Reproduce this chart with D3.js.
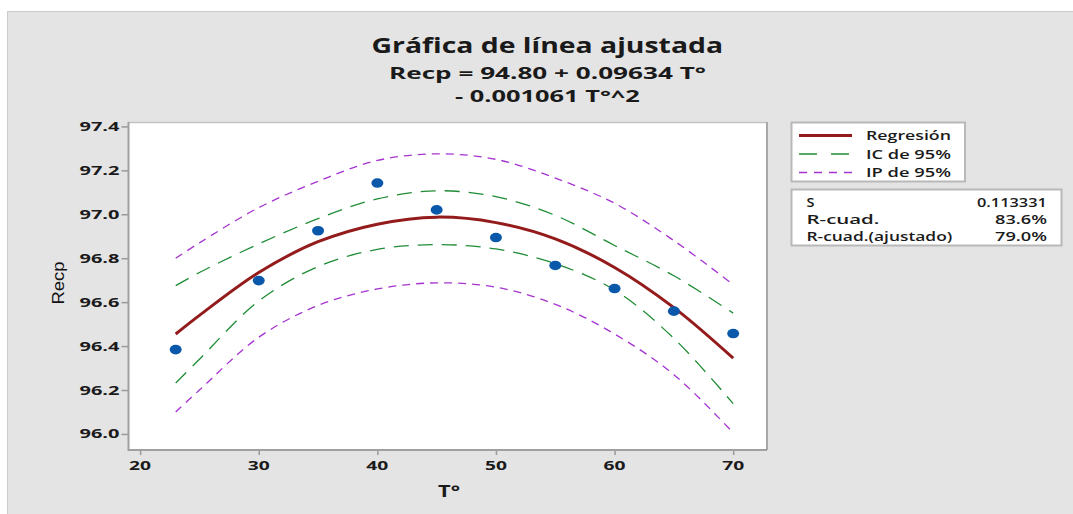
<!DOCTYPE html>
<html><head><meta charset="utf-8">
<script src="https://cdn.jsdelivr.net/npm/d3@7"></script>
<style>html,body{margin:0;padding:0;background:#fff;}svg{display:block;}</style>
</head><body>
<svg id="chart" width="1073" height="514"></svg>
<script>
// ---- data ----
const obsT = [23, 30, 35, 40, 45, 50, 55, 60, 65, 70];
const obsRecp = [96.384, 96.698, 96.925, 97.142, 97.02, 96.894, 96.767, 96.662, 96.559, 96.457];
const fitT = [23, 25, 30, 35, 40, 45, 50, 55, 60, 65, 70];
const fitRecp = [96.455, 96.54, 96.735, 96.875, 96.955, 96.987, 96.962, 96.888, 96.758, 96.575, 96.345];
const ciUpper = [96.675, 96.735, 96.865, 96.98, 97.07, 97.107, 97.08, 96.995, 96.858, 96.72, 96.55];
const ciLower = [96.232, 96.34, 96.605, 96.762, 96.84, 96.862, 96.842, 96.775, 96.655, 96.435, 96.138];
const piUpper = [96.80, 96.87, 97.03, 97.15, 97.245, 97.275, 97.25, 97.165, 97.05, 96.88, 96.68];
const piLower = [96.10, 96.2, 96.44, 96.585, 96.66, 96.688, 96.668, 96.59, 96.455, 96.27, 96.005];
const xTicks = [20, 30, 40, 50, 60, 70];
const yTicks = [96.0, 96.2, 96.4, 96.6, 96.8, 97.0, 97.2, 97.4];
const legendLabels = ["Regresión", "IC de 95%", "IP de 95%"];
const statNames = ["S", "R-cuad.", "R-cuad.(ajustado)"];
const statValues = ["0.113331", "83.6%", "79.0%"];
const title = "Gráfica de línea ajustada";
const eq1 = "Recp = 94.80 + 0.09634 T°";
const eq2 = "- 0.001061 T°^2";

// ---- layout ----
const svg = d3.select("#chart");
const box = {l: 128.5, r: 767, t: 122, b: 450};
const x = d3.scaleLinear().domain([19.02, 72.85]).range([box.l, box.r]);
const y = d3.scaleLinear().domain([95.927, 97.42]).range([box.b, box.t]);
const FONT = "'Open Sans', 'Noto Sans', sans-serif";

function label(parent, str, px, py, o) {
  const t = parent.append("text").text(str)
    .attr("font-family", o.family || FONT)
    .attr("font-size", o.size)
    .attr("font-weight", o.weight || 600)
    .attr("fill", o.fill || "#1a1a1a");
  const w = t.node().getComputedTextLength();
  const tw = o.w || w;
  const sx = tw / w;
  const rot = o.rotate ? ` rotate(${o.rotate})` : "";
  let off = 0;
  if (o.anchor === "middle") off = -tw / 2;
  else if (o.anchor === "end") off = -tw;
  t.attr("transform", `translate(${px},${py})${rot} translate(${off},0) scale(${sx},1)`);
  return t;
}

// background panel
svg.append("rect").attr("x", 7).attr("y", 11).attr("width", 1066).attr("height", 503).attr("fill", "#e4e4e4");
svg.append("path").attr("d", "M7.5,514V11.5H1073").attr("fill", "none").attr("stroke", "#cccccc").attr("stroke-width", 1);

// plot area
svg.append("rect").attr("x", box.l).attr("y", box.t).attr("width", box.r - box.l).attr("height", box.b - box.t).attr("fill", "#ffffff");
svg.append("line").attr("x1", box.l).attr("x2", box.r).attr("y1", box.t + 0.5).attr("y2", box.t + 0.5).attr("stroke", "#c4c4c4").attr("stroke-width", 1.5);
svg.append("line").attr("x1", box.r).attr("x2", box.r).attr("y1", box.t).attr("y2", box.b).attr("stroke", "#a8a8a8").attr("stroke-width", 2);

// axes (ticks only; labels drawn separately)
const gy = svg.append("g").attr("transform", `translate(${box.l},0)`)
  .call(d3.axisLeft(y).tickValues(yTicks).tickSize(7).tickSizeOuter(0).tickFormat(""));
const gx = svg.append("g").attr("transform", `translate(0,${box.b})`)
  .call(d3.axisBottom(x).tickValues(xTicks).tickSize(5).tickSizeOuter(0).tickFormat(""));
[gy, gx].forEach(g => {
  g.selectAll("line").attr("stroke", "#9a9a9a").attr("stroke-width", 1.5);
  g.select(".domain").remove();
});
svg.append("path").attr("d", `M${box.l},${box.t}V${box.b}H${box.r}`).attr("fill", "none").attr("stroke", "#a0a0a0").attr("stroke-width", 2);

yTicks.forEach(v => label(svg, d3.format(".1f")(v), 119.5, y(v) + 4.5, {size: 13, weight: 700, anchor: "end", w: 40}));
xTicks.forEach(v => label(svg, String(v), x(v), 469.5, {size: 13, weight: 700, anchor: "middle", w: 22}));

// axis titles
label(svg, "T°", 449, 496.5, {size: 16, weight: 700, anchor: "middle", w: 22});
label(svg, "Recp", 64, 283, {size: 17, weight: 400, anchor: "middle", w: 43, rotate: -90, family: "'Liberation Sans', Arial, sans-serif", fill: "#111"});

// titles
label(svg, title, 547.5, 53, {size: 22, weight: 700, anchor: "middle", w: 352});
label(svg, eq1, 547.5, 78.5, {size: 16, weight: 700, anchor: "middle", w: 317});
label(svg, eq2, 547.5, 101.5, {size: 16, weight: 700, anchor: "middle", w: 185});

// curves
const line = (ys) => d3.line().x((d, i) => x(fitT[i])).y(d => y(d)).curve(d3.curveCatmullRom)(ys);
const plot = svg.append("g");
plot.append("path").attr("d", line(piUpper)).attr("fill", "none").attr("stroke", "#a633d0").attr("stroke-width", 1.3).attr("stroke-dasharray", "8,6");
plot.append("path").attr("d", line(piLower)).attr("fill", "none").attr("stroke", "#a633d0").attr("stroke-width", 1.3).attr("stroke-dasharray", "8,6");
plot.append("path").attr("d", line(ciUpper)).attr("fill", "none").attr("stroke", "#1f8c35").attr("stroke-width", 1.3).attr("stroke-dasharray", "15,9");
plot.append("path").attr("d", line(ciLower)).attr("fill", "none").attr("stroke", "#1f8c35").attr("stroke-width", 1.3).attr("stroke-dasharray", "15,9");
plot.append("path").attr("d", line(fitRecp)).attr("fill", "none").attr("stroke", "#941b1b").attr("stroke-width", 3);

plot.selectAll("ellipse").data(obsT).join("ellipse")
  .attr("cx", d => x(d)).attr("cy", (d, i) => y(obsRecp[i]))
  .attr("rx", 6).attr("ry", 4.8).attr("fill", "#0a58aa");

// legend
const lg = svg.append("g");
lg.append("rect").attr("x", 791.5).attr("y", 122.5).attr("width", 173.5).attr("height", 59).attr("fill", "#fff").attr("stroke", "#b8b8b8").attr("stroke-width", 2);
const legStyles = [
  {stroke: "#941b1b", w: 3, dash: null, y: 135.5},
  {stroke: "#1f8c35", w: 1.3, dash: "18,14", y: 154},
  {stroke: "#a633d0", w: 1.3, dash: "8,7", y: 172.5}
];
const legBase = [140, 158.5, 177];
legendLabels.forEach((s, i) => {
  const st = legStyles[i];
  lg.append("line").attr("x1", 799).attr("x2", 852).attr("y1", st.y).attr("y2", st.y)
    .attr("stroke", st.stroke).attr("stroke-width", st.w).attr("stroke-dasharray", st.dash);
  label(lg, s, 866, legBase[i], {size: 13, w: 85});
});

// stats box
const sb = svg.append("g");
sb.append("rect").attr("x", 791.5).attr("y", 189.5).attr("width", 270).attr("height", 56).attr("fill", "#fff").attr("stroke", "#b8b8b8").attr("stroke-width", 2);
const statBase = [206.5, 223.5, 240.5];
const nameW = [8, 73, 146];
const valW = [70, 52, 52];
statNames.forEach((s, i) => {
  label(sb, s, 806.5, statBase[i], {size: 12.5, w: nameW[i]});
  label(sb, statValues[i], 1047, statBase[i], {size: 12.5, anchor: "end", w: valW[i]});
});
</script>
</body></html>
